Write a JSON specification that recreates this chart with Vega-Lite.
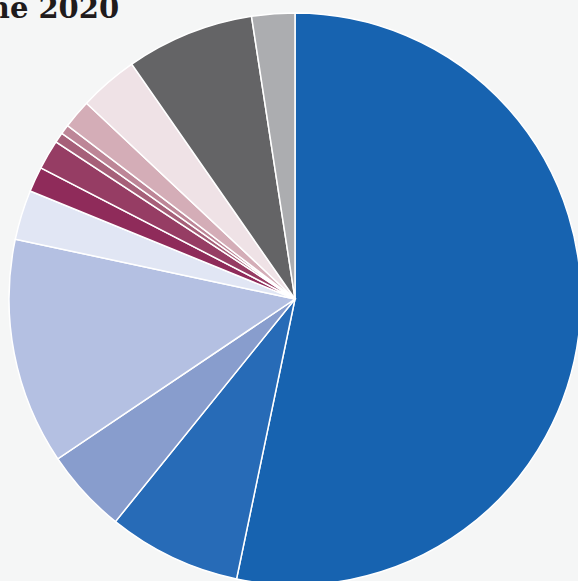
{
  "$schema": "https://vega.github.io/schema/vega-lite/v6.json",
  "width": 578,
  "height": 581,
  "padding": 0,
  "autosize": {"type": "none"},
  "background": "#f5f6f6",
  "config": {"view": {"stroke": null}},
  "title": {
    "text": "June 2020",
    "anchor": "start",
    "frame": "group",
    "orient": "top",
    "offset": 0,
    "baseline": "alphabetic",
    "dx": -46,
    "dy": 47,
    "font": "DejaVu Serif",
    "fontWeight": "bold",
    "fontSize": 29,
    "color": "#1f1b1c"
  },
  "data": {
    "values": [
      {"order": 1, "category": "A", "share": 53.28},
      {"order": 2, "category": "B", "share": 7.53},
      {"order": 3, "category": "C", "share": 4.76},
      {"order": 4, "category": "D", "share": 12.79},
      {"order": 5, "category": "E", "share": 2.81},
      {"order": 6, "category": "F", "share": 1.42},
      {"order": 7, "category": "G", "share": 1.67},
      {"order": 8, "category": "H", "share": 0.58},
      {"order": 9, "category": "I", "share": 0.54},
      {"order": 10, "category": "J", "share": 1.63},
      {"order": 11, "category": "K", "share": 3.33},
      {"order": 12, "category": "L", "share": 7.24},
      {"order": 13, "category": "M", "share": 2.43}
    ]
  },
  "mark": {"type": "arc", "outerRadius": 286, "x": 295, "y": 299, "stroke": "#ffffff", "strokeWidth": 1.5},
  "encoding": {
    "theta": {"field": "share", "type": "quantitative", "stack": true},
    "order": {"field": "order", "type": "quantitative"},
    "color": {
      "field": "category",
      "type": "nominal",
      "legend": null,
      "scale": {
        "domain": ["A","B","C","D","E","F","G","H","I","J","K","L","M"],
        "range": ["#1763b0","#276bb7","#889dcd","#b4c0e2","#e1e6f4","#8f2b5a","#963d64","#a66079","#bd8697","#d4adb7","#efe2e6","#646466","#acadb0"]
      }
    }
  }
}
